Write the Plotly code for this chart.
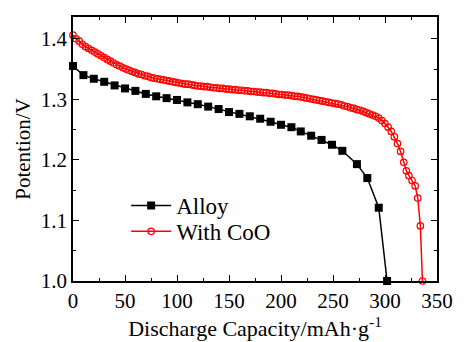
import plotly.graph_objects as go

alloy_x = [0, 10, 20, 30, 40, 50, 60, 70, 80, 90, 100, 110, 120, 130, 140, 150, 160, 170, 180, 190,
           200, 210, 219, 229, 239, 249, 259, 273, 283, 294, 302]
alloy_y = [1.355, 1.340, 1.334, 1.329, 1.323, 1.318, 1.314, 1.309, 1.305, 1.302, 1.299, 1.295, 1.292,
           1.288, 1.284, 1.279, 1.276, 1.272, 1.268, 1.263, 1.258, 1.254, 1.247, 1.240, 1.233, 1.225,
           1.215, 1.193, 1.170, 1.121, 1.000]

coo_x = [0, 3, 6, 9, 12, 15, 18, 21, 24, 27, 30, 33, 36, 39, 42, 45, 48, 51, 54, 57, 60, 63, 66, 69,
         72, 75, 78, 81, 84, 87, 90, 93, 96, 99, 102, 105, 108, 111, 114, 117, 120, 123, 126, 129,
         132, 135, 138, 141, 144, 147, 150, 153, 156, 159, 162, 165, 168, 171, 174, 177, 180, 183,
         186, 189, 192, 195, 198, 201, 204, 207, 210, 213, 216, 219, 222, 225, 228, 231, 234, 237,
         240, 243, 246, 249, 252, 255, 258, 261, 264, 267, 270, 273, 276, 279, 282, 285, 288, 291,
         294, 297, 300, 303, 306, 309, 312, 315, 318, 320.5, 323, 326, 329, 331.5, 334, 336]
coo_y = [1.406, 1.400, 1.396, 1.391, 1.387, 1.384, 1.381, 1.378, 1.375, 1.372, 1.369, 1.366, 1.363,
         1.360, 1.357, 1.355, 1.352, 1.350, 1.348, 1.346, 1.344, 1.342, 1.341, 1.339, 1.338, 1.336,
         1.335, 1.334, 1.333, 1.332, 1.331, 1.330, 1.329, 1.328, 1.327, 1.326, 1.325, 1.325, 1.324,
         1.323, 1.322, 1.322, 1.321, 1.321, 1.320, 1.319, 1.319, 1.318, 1.318, 1.317, 1.317, 1.316,
         1.316, 1.315, 1.315, 1.314, 1.314, 1.313, 1.313, 1.312, 1.312, 1.311, 1.311, 1.310, 1.310,
         1.309, 1.308, 1.308, 1.307, 1.307, 1.306, 1.305, 1.305, 1.304, 1.303, 1.302, 1.301, 1.300,
         1.299, 1.298, 1.297, 1.296, 1.295, 1.294, 1.293, 1.292, 1.291, 1.289, 1.288, 1.286, 1.285,
         1.283, 1.282, 1.280, 1.278, 1.276, 1.274, 1.272, 1.269, 1.265, 1.260, 1.254, 1.247, 1.238,
         1.227, 1.214, 1.196, 1.182, 1.174, 1.166, 1.157, 1.137, 1.091, 1.000]

x_ticks = [0, 50, 100, 150, 200, 250, 300, 350]
y_ticks = [1.0, 1.1, 1.2, 1.3, 1.4]

FONT = "Liberation Serif"

fig = go.Figure()
fig.add_trace(go.Scatter(
    x=alloy_x, y=alloy_y, name="Alloy", mode="lines+markers",
    line=dict(color="black", width=1.5),
    marker=dict(symbol="square", size=8, color="black"),
    cliponaxis=False, legend="legend",
))
fig.add_trace(go.Scatter(
    x=coo_x, y=coo_y, name="With CoO", mode="lines+markers",
    line=dict(color="red", width=1.5),
    marker=dict(symbol="circle-open", size=6.5, color="red", line=dict(width=1.2, color="red")),
    cliponaxis=False, legend="legend2",
))

axis_common = dict(
    showline=True, linecolor="black", linewidth=1.5, mirror="allticks",
    ticks="inside", ticklen=6, tickwidth=1.2, tickcolor="black",
    showgrid=False, zeroline=False,
    tickfont=dict(family=FONT, size=21, color="black"),
)

fig.update_xaxes(
    range=[0, 350], tickmode="array", tickvals=x_ticks,
    ticktext=[str(v) for v in x_ticks],
    minor=dict(tickvals=[25, 75, 125, 175, 225, 275, 325], ticks="inside", ticklen=3,
               tickwidth=1.2, tickcolor="black", showgrid=False),
    title=dict(text="Discharge Capacity/mAh·g<sup>-1</sup>",
               font=dict(family=FONT, size=22, color="black"), standoff=2),
    **axis_common,
)
fig.update_yaxes(
    range=[1.0, 1.436], tickmode="array", tickvals=y_ticks,
    ticktext=["%.1f" % v for v in y_ticks],
    minor=dict(tickvals=[1.05, 1.15, 1.25, 1.35], ticks="inside", ticklen=3,
               tickwidth=1.2, tickcolor="black", showgrid=False),
    title=dict(text="Potention/V", font=dict(family=FONT, size=21, color="black"), standoff=4),
    **axis_common,
)

leg_common = dict(xanchor="left", yanchor="middle", bgcolor="rgba(0,0,0,0)",
                  font=dict(family=FONT, size=23, color="black"), itemwidth=40)

fig.update_layout(
    width=465, height=342,
    margin=dict(l=73, r=23, t=17, b=59),
    paper_bgcolor="white", plot_bgcolor="white",
    font=dict(family=FONT, color="black"),
    showlegend=True,
    legend=dict(x=0.146, y=0.286, **leg_common),
    legend2=dict(x=0.146, y=0.188, **leg_common),
)

fig.write_html(
    "out.html",
    config={"displayModeBar": False},
    post_script="document.body.style.margin='0';document.body.style.overflow='hidden';",
)
